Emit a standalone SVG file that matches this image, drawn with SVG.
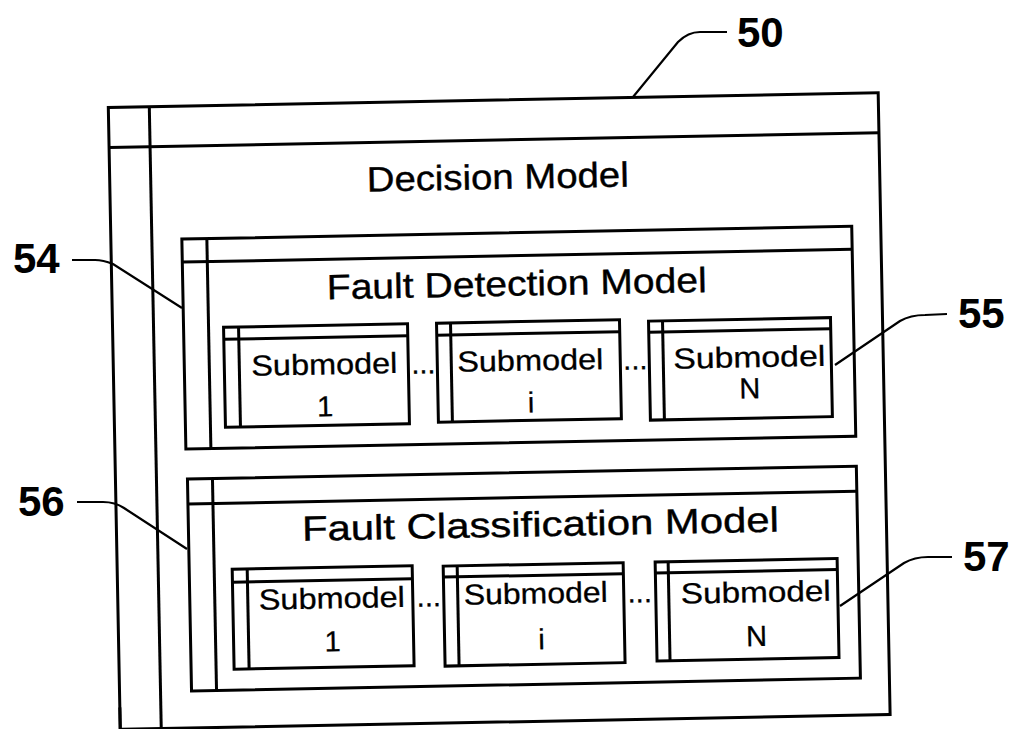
<svg xmlns="http://www.w3.org/2000/svg" width="1014" height="729" viewBox="0 0 1014 729">
<style>
.box{fill:none;stroke:#000;stroke-width:3}
.ln{stroke:#000;stroke-width:3;fill:none}
.ld{stroke:#000;stroke-width:2.2;fill:none}
.h{font-family:"Liberation Sans",Arial,sans-serif;font-size:35px;text-anchor:middle;fill:#000;stroke:#000;stroke-width:0.4}
.s{font-family:"Liberation Sans",Arial,sans-serif;font-size:29px;text-anchor:middle;fill:#000;stroke:#000;stroke-width:0.3}
.lb{font-family:"Liberation Sans",Arial,sans-serif;font-size:42px;font-weight:bold;fill:#000}
</style>
<rect width="1014" height="729" fill="#fff"/>
<g transform="rotate(-1.1 500 400)">
<g id="decision-model">
<rect class="box" x="114" y="100" width="770" height="622"/>
<line class="ln" x1="114" y1="140" x2="884" y2="140"/>
<line class="ln" x1="155" y1="100" x2="155" y2="740"/>
<line class="ln" x1="114" y1="700" x2="114" y2="740"/>
<text class="h" x="502" y="189" textLength="262" lengthAdjust="spacingAndGlyphs">Decision Model</text>
</g>
<g id="fault-detection-model">
<rect class="box" x="185" y="233" width="670" height="210"/>
<line class="ln" x1="185" y1="256" x2="855" y2="256"/>
<line class="ln" x1="210" y1="233" x2="210" y2="443"/>
<text class="h" x="519" y="296" textLength="380" lengthAdjust="spacingAndGlyphs">Fault Detection Model</text>
</g>
<g id="fd-submodel-1">
<rect class="box" x="225" y="322" width="184" height="100"/>
<line class="ln" x1="225" y1="334" x2="409" y2="334"/>
<line class="ln" x1="240" y1="322" x2="240" y2="422"/>
<text class="s" x="325" y="371" textLength="146" lengthAdjust="spacingAndGlyphs">Submodel</text>
<text class="s" x="325" y="413">1</text>
</g>
<g id="fd-submodel-i">
<rect class="box" x="438" y="322" width="183" height="99"/>
<line class="ln" x1="438" y1="334" x2="621" y2="334"/>
<line class="ln" x1="452" y1="322" x2="452" y2="421"/>
<text class="s" x="531" y="371" textLength="146" lengthAdjust="spacingAndGlyphs">Submodel</text>
<text class="s" x="531" y="413">i</text>
</g>
<g id="fd-submodel-n">
<rect class="box" x="650" y="324" width="182" height="99"/>
<line class="ln" x1="650" y1="335" x2="832" y2="335"/>
<line class="ln" x1="664" y1="324" x2="664" y2="423"/>
<text class="s" x="750" y="372" textLength="152" lengthAdjust="spacingAndGlyphs">Submodel</text>
<text class="s" x="750" y="403">N</text>
</g>
<g id="fd-dots">
<text class="s" x="424" y="372">...</text>
<text class="s" x="636" y="372">...</text>
</g>
<g id="fault-classification-model">
<rect class="box" x="186" y="473" width="669" height="212"/>
<line class="ln" x1="186" y1="498" x2="855" y2="498"/>
<line class="ln" x1="211" y1="473" x2="211" y2="685"/>
<text class="h" x="538" y="537" textLength="477" lengthAdjust="spacingAndGlyphs">Fault Classification Model</text>
</g>
<g id="fc-submodel-1">
<rect class="box" x="229" y="564" width="180" height="100"/>
<line class="ln" x1="229" y1="577" x2="409" y2="577"/>
<line class="ln" x1="244" y1="564" x2="244" y2="664"/>
<text class="s" x="328" y="605" textLength="146" lengthAdjust="spacingAndGlyphs">Submodel</text>
<text class="s" x="328" y="648">1</text>
</g>
<g id="fc-submodel-i">
<rect class="box" x="440" y="565" width="180" height="100"/>
<line class="ln" x1="440" y1="576" x2="620" y2="576"/>
<line class="ln" x1="454" y1="565" x2="454" y2="665"/>
<text class="s" x="532" y="604" textLength="144" lengthAdjust="spacingAndGlyphs">Submodel</text>
<text class="s" x="537" y="650">i</text>
</g>
<g id="fc-submodel-n">
<rect class="box" x="652" y="565" width="182" height="99"/>
<line class="ln" x1="652" y1="576" x2="834" y2="576"/>
<line class="ln" x1="665" y1="565" x2="665" y2="664"/>
<text class="s" x="752" y="607" textLength="150" lengthAdjust="spacingAndGlyphs">Submodel</text>
<text class="s" x="752" y="651">N</text>
</g>
<g id="fc-dots">
<text class="s" x="425" y="605">...</text>
<text class="s" x="636" y="605">...</text>
</g>
</g>
<g id="connectors">
<path class="ld" d="M727,32 L700,32 C690,32 684,36 678,42 L633,97"/>
<path class="ld" d="M72,260 L95,260 C103,260 108,262 113,264 L182,308"/>
<path class="ld" d="M947,314 L925,315 C915,315 907,317 900,321 L835,365"/>
<path class="ld" d="M77,502 L103,502 C112,502 118,504 124,508 L187,549"/>
<path class="ld" d="M952,557 L928,557 C918,557 911,559 904,563 L840,606"/>
</g>
<g id="labels">
<text class="lb" x="737" y="47">50</text>
<text class="lb" x="13" y="273">54</text>
<text class="lb" x="958" y="328">55</text>
<text class="lb" x="18" y="516">56</text>
<text class="lb" x="963" y="571">57</text>
</g>
</svg>
